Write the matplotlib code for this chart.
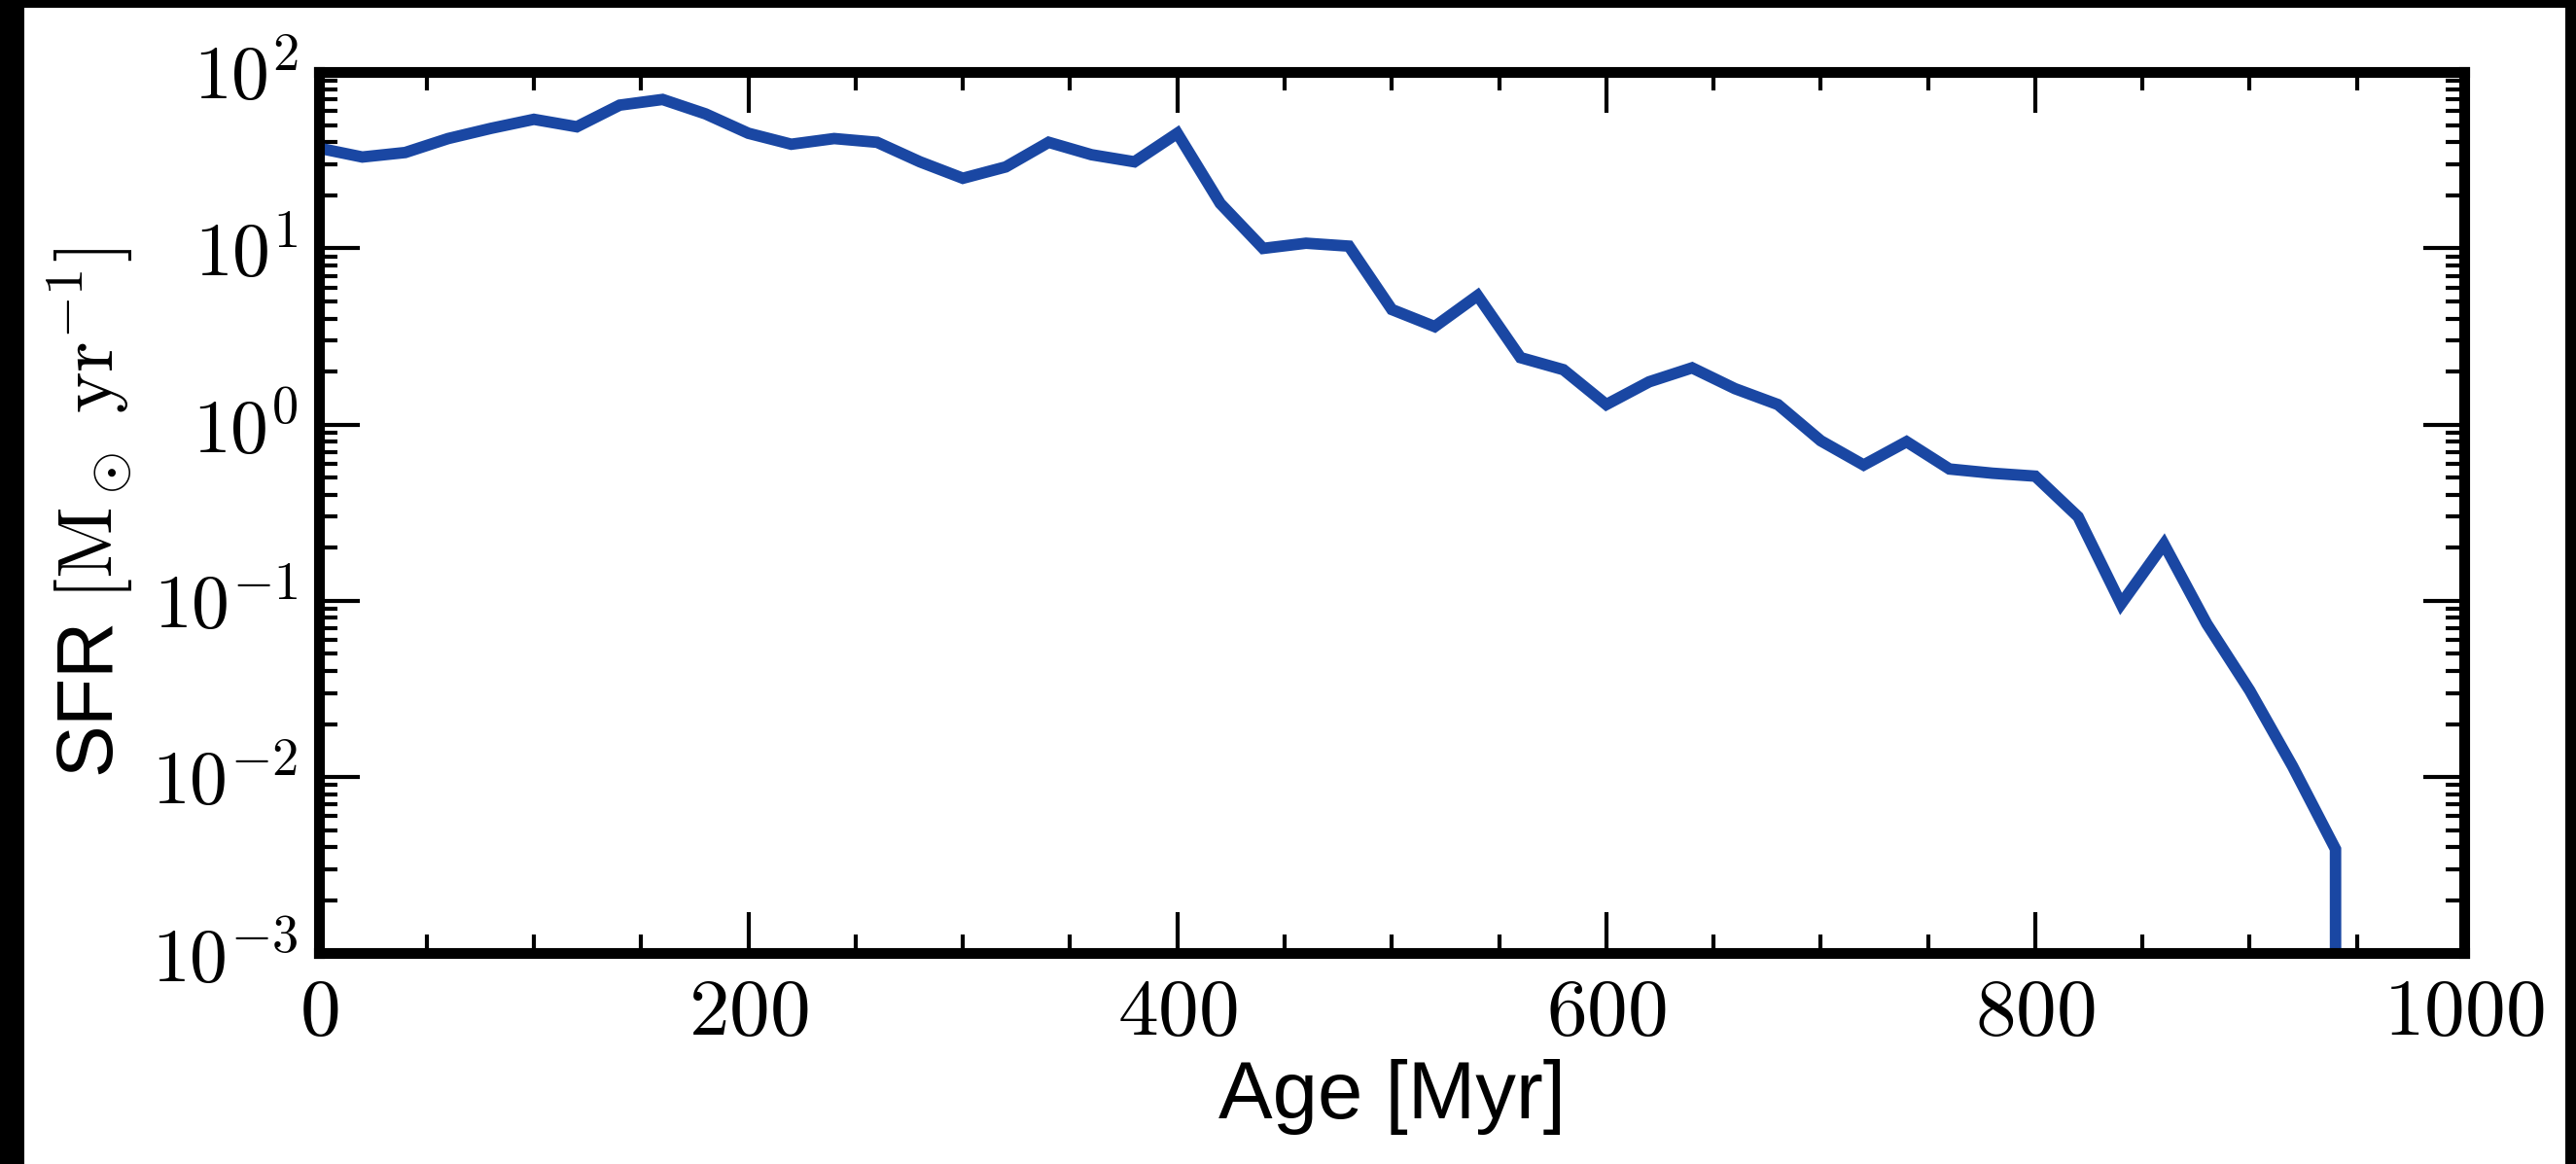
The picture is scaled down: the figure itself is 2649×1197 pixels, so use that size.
import matplotlib
matplotlib.use("Agg")
import matplotlib.pyplot as plt
from matplotlib.patches import Rectangle
from matplotlib.ticker import MultipleLocator, LogLocator, NullFormatter, FuncFormatter
import numpy as np

age_myr = [0, 20, 40, 60, 80, 100, 120, 140, 160, 180, 200, 220, 240, 260, 280,
           300, 320, 340, 360, 380, 400, 420, 440, 460, 480, 500, 520, 540, 560,
           580, 600, 620, 640, 660, 680, 700, 720, 740, 760, 780, 800, 820, 840,
           860, 880, 900, 920, 940, 960]
sfr = [37, 33, 35, 42, 48, 54, 49, 65, 70, 58, 45, 39, 42, 40, 31,
       25, 29, 40, 34, 31, 45, 18, 10, 10.7, 10.3, 4.5, 3.6, 5.4, 2.4,
       2.05, 1.3, 1.75, 2.1, 1.6, 1.3, 0.81, 0.59, 0.8, 0.56, 0.53, 0.51, 0.3, 0.096,
       0.21, 0.074, 0.031, 0.0115, 0.0039, 0.0]

xticks = [0, 200, 400, 600, 800, 1000]

plt.rcParams['mathtext.fontset'] = 'cm'
plt.rcParams['font.family'] = ['Liberation Sans', 'DejaVu Sans']

fig = plt.figure(figsize=(26.49, 11.97), dpi=100)
fig.patch.set_facecolor('black')
fig.add_artist(Rectangle((25/2649, 0), (2638-25)/2649, (1197-8)/1197,
                         transform=fig.transFigure, facecolor='white',
                         edgecolor='none', zorder=-10))
ax = fig.add_axes([0.124, 0.181, 0.9566-0.124, 0.938-0.181])
ax.set_facecolor('white')

ax.plot(age_myr, sfr, color='#1a47a3', lw=8.5, solid_joinstyle='miter')
ax.set_yscale('log', nonpositive='clip')
ax.set_xlim(0, 1000)
ax.set_ylim(1e-3, 1e2)

ax.set_xticks(xticks)
ax.set_xticklabels([f'${v}$' for v in xticks])
ax.xaxis.set_minor_locator(MultipleLocator(50))
ax.yaxis.set_major_locator(LogLocator(base=10, numticks=20))
ax.yaxis.set_minor_locator(LogLocator(base=10, subs=np.arange(2, 10), numticks=20))
ax.yaxis.set_minor_formatter(NullFormatter())
ax.yaxis.set_major_formatter(FuncFormatter(lambda v, p: r'$10^{%d}$' % int(round(np.log10(v)))))

for s in ax.spines.values():
    s.set_linewidth(8)
ax.tick_params(which='both', direction='in', top=True, right=True, width=3)
ax.tick_params(which='major', length=30, pad=16)
ax.tick_params(axis='x', which='major', labelsize=60)
ax.tick_params(axis='y', which='major', labelsize=56)
ax.tick_params(which='minor', length=14)

ax.set_xlabel('Age [Myr]', fontsize=60, labelpad=6)
ax.set_ylabel(r'SFR $[\mathrm{M}_\odot\ \mathrm{yr}^{-1}]$', fontsize=58, labelpad=12)

fig.savefig('out.png', dpi=100, facecolor=fig.get_facecolor())
